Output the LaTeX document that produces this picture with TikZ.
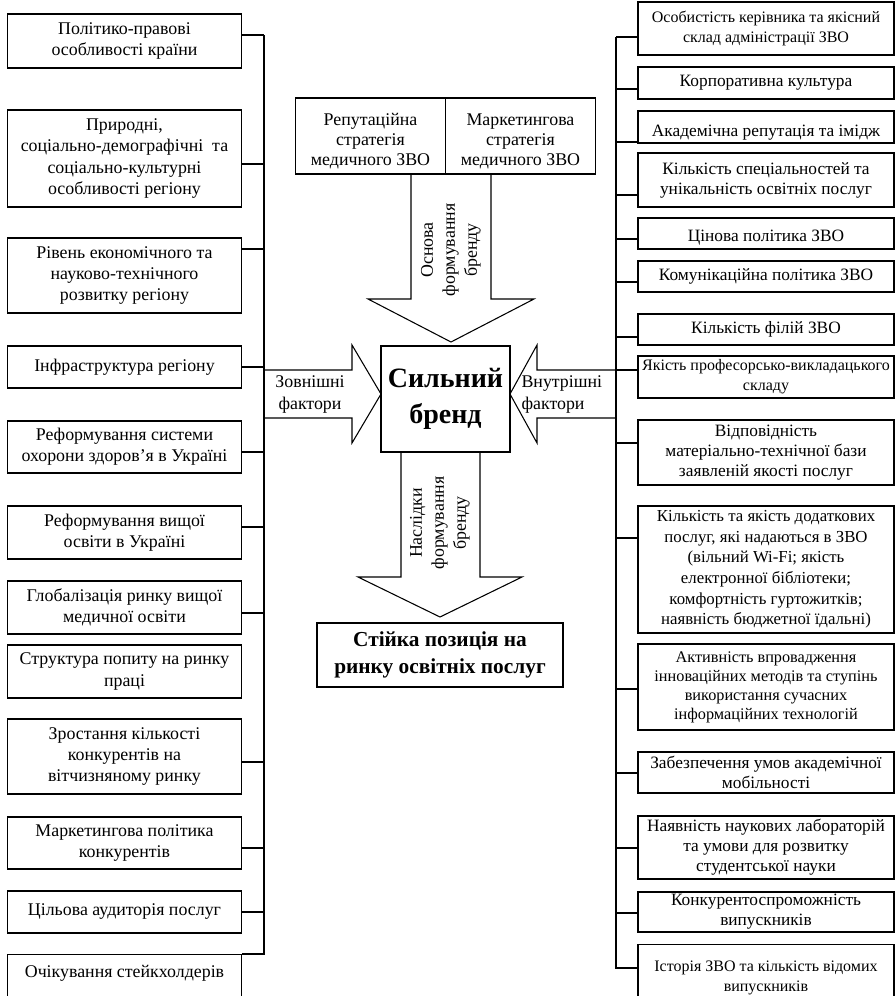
\documentclass[tikz,border=0pt]{standalone}
\usepackage{fontspec}
\setmainfont{Liberation Serif}
\usetikzlibrary{positioning, calc}

\begin{document}
\begin{tikzpicture}[x=0.75pt, y=-0.75pt, font=\fontsize{13.4}{16.5}\selectfont, line width=0.8pt]%

            \tikzstyle{fac} = [ rectangle, draw = black!100, align = center, inner xsep = 1pt, inner ysep = 0pt]
            \tikzstyle{extbox} = [ fac, minimum width = 176pt, font = \fontsize{13.4}{15.8}\selectfont]
            \tikzstyle{intbox} = [ fac, minimum width = 192pt, font = \fontsize{13}{15}\selectfont]
            \tikzstyle{narrow} = [ font = \fontsize{12}{15}\selectfont]
            \tikzstyle{stratbox} = [ fac, minimum width = 112.5pt, minimum height = 57pt, font = \fontsize{13.4}{15}\selectfont]
            \tikzstyle{bigarrow} = [ draw = black!100, line join = miter]
            \tikzstyle{rot} = [ rotate = 90, align = center, inner sep = 0pt]
        %%
            \useasboundingbox (0,0) rectangle (896,996);
            \clip (0,0) rectangle (896,996);

            \begin{scope}%
                %% External factors
                \node [extbox, minimum height = 40.5pt] (ext_1) at (124.5, 41) {Політико-правові\\особливості країни};
                \node [extbox, minimum height = 72.75pt] (ext_2) at (124.5, 158.5) {Природні,\\соціально-демографічні\ \ та\\соціально-культурні\\особливості регіону};
                \node [extbox, minimum height = 56.25pt] (ext_3) at (124.5, 275.5) {Рівень економічного та\\науково-технічного\\розвитку регіону};
                \node [extbox, minimum height = 31.5pt] (ext_4) at (124.5, 367) {Інфраструктура регіону};
                \node [extbox, minimum height = 39pt] (ext_5) at (124.5, 447) {Реформування системи\\охорони здоров'я в Україні};
                \node [extbox, minimum height = 39.75pt] (ext_6) at (124.5, 532.5) {Реформування вищої\\освіти в Україні};
                \node [extbox, minimum height = 39.75pt] (ext_7) at (124.5, 607.5) {Глобалізація ринку вищої\\медичної освіти};
                \node [extbox, minimum height = 39.75pt] (ext_8) at (124.5, 671.5) {Структура попиту на ринку\\праці};
                \node [extbox, minimum height = 56.25pt] (ext_9) at (124.5, 756.5) {Зростання кількості\\конкурентів на\\вітчизняному ринку};
                \node [extbox, minimum height = 39pt] (ext_10) at (124.5, 843) {Маркетингова політика\\конкурентів};
                \node [extbox, minimum height = 31.5pt] (ext_11) at (124.5, 912) {Цільова аудиторія послуг};
                \node [extbox, anchor = north, inner ysep = 2pt, text height = 15pt, text depth = 30pt] (ext_12) at (124.5, 954) {Очікування стейкхолдерів};

                \coordinate (ls_1) at (264, 35);
                \coordinate (ls_2) at (264, 164);
                \coordinate (ls_3) at (264, 249);
                \coordinate (ls_4) at (264, 367);
                \coordinate (ls_5) at (264, 452);
                \coordinate (ls_6) at (264, 527);
                \coordinate (ls_7) at (264, 613);
                \coordinate (ls_9) at (264, 762);
                \coordinate (ls_10) at (264, 848);
                \coordinate (ls_11) at (264, 912);
                \coordinate (ls_end) at (264, 954);

                \draw (ext_1.east |- ls_1) -- (ls_1);
                \draw (ext_2.east |- ls_2) -- (ls_2);
                \draw (ext_3.east |- ls_3) -- (ls_3);
                \draw (ext_4.east |- ls_4) -- (ls_4);
                \draw (ext_5.east |- ls_5) -- (ls_5);
                \draw (ext_6.east |- ls_6) -- (ls_6);
                \draw (ext_7.east |- ls_7) -- (ls_7);
                \draw (ext_9.east |- ls_9) -- (ls_9);
                \draw (ext_10.east |- ls_10) -- (ls_10);
                \draw (ext_11.east |- ls_11) -- (ls_11);
                \draw (ls_1) -- (ls_end) -- (ext_12.north east);

                %% Internal factors
                \node [intbox, narrow, minimum height = 39.75pt] (int_1) at (766, 28.5) {Особистість керівника та якісний\\склад адміністрації ЗВО};
                \node [intbox, minimum height = 24pt] (int_2) at (766, 83) {Корпоративна культура};
                \node [intbox, minimum height = 24pt, text height = 14pt, text depth = 0pt] (int_3) at (766, 127) {Академічна репутація та імідж};
                \node [intbox, minimum height = 40.5pt] (int_4) at (766, 180) {Кількість спеціальностей та\\унікальність освітніх послуг};
                \node [intbox, minimum height = 23.25pt, text height = 12pt, text depth = 0pt] (int_5) at (766, 233.5) {Цінова політика ЗВО};
                \node [intbox, minimum height = 23.25pt] (int_6) at (766, 276.5) {Комунікаційна політика ЗВО};
                \node [intbox, minimum height = 23.25pt] (int_7) at (766, 329.5) {Кількість філій ЗВО};
                \node [intbox, narrow, minimum height = 31.5pt] (int_8) at (766, 377) {Якість професорсько-викладацького\\складу};
                \node [intbox, minimum height = 48.75pt] (int_9) at (766, 452.5) {Відповідність\\матеріально-технічної бази\\заявленій якості послуг};
                \node [intbox, minimum height = 95.25pt, font = \fontsize{12.6}{15.5}\selectfont] (int_10) at (766, 569.5) {Кількість та якість додаткових\\послуг, які надаються в ЗВО\\(вільний Wi-Fi; якість\\електронної бібліотеки;\\комфортність гуртожитків;\\наявність бюджетної їдальні)};
                \node [intbox, minimum height = 64.5pt, font = \fontsize{12.2}{14.3}\selectfont] (int_11) at (766, 687) {Активність впровадження\\інноваційних методів та ступінь\\використання сучасних\\інформаційних технологій};
                \node [intbox, minimum height = 30.75pt] (int_12) at (766, 772.5) {Забезпечення умов академічної\\мобільності};
                \node [intbox, minimum height = 47.25pt] (int_13) at (766, 847.5) {Наявність наукових лабораторій\\та умови для розвитку\\студентської науки};
                \node [intbox, minimum height = 30pt] (int_14) at (766, 912) {Конкурентоспроможність\\випускників};
                \node [intbox, narrow, anchor = north, inner ysep = 2pt, text height = 33pt, text depth = 30pt] (int_15) at (766, 944) {Історія ЗВО та кількість відомих\\випускників};

                \coordinate (rs_1) at (616, 37);
                \coordinate (rs_2) at (616, 89);
                \coordinate (rs_3) at (616, 142);
                \coordinate (rs_4) at (616, 195);
                \coordinate (rs_5) at (616, 239);
                \coordinate (rs_6) at (616, 282);
                \coordinate (rs_7) at (616, 337);
                \coordinate (rs_8) at (616, 370);
                \coordinate (rs_9) at (616, 443);
                \coordinate (rs_10) at (616, 538);
                \coordinate (rs_11) at (616, 689);
                \coordinate (rs_12) at (616, 773);
                \coordinate (rs_13) at (616, 848);
                \coordinate (rs_14) at (616, 913);
                \coordinate (rs_15) at (616, 968);

                \draw (int_1.west |- rs_1) -- (rs_1);
                \draw (int_2.west |- rs_2) -- (rs_2);
                \draw (int_3.west |- rs_3) -- (rs_3);
                \draw (int_4.west |- rs_4) -- (rs_4);
                \draw (int_5.west |- rs_5) -- (rs_5);
                \draw (int_6.west |- rs_6) -- (rs_6);
                \draw (int_7.west |- rs_7) -- (rs_7);
                \draw (int_8.west |- rs_8) -- (rs_8);
                \draw (int_9.west |- rs_9) -- (rs_9);
                \draw (int_10.west |- rs_10) -- (rs_10);
                \draw (int_11.west |- rs_11) -- (rs_11);
                \draw (int_12.west |- rs_12) -- (rs_12);
                \draw (int_13.west |- rs_13) -- (rs_13);
                \draw (int_14.west |- rs_14) -- (rs_14);
                \draw (rs_1) -- (rs_15) -- (int_15.west |- rs_15);

                %% Strategies
                \node [stratbox, text height = 46.5pt, text depth = 3pt] (str_rep) at (370.5, 136) {Репутаційна\\стратегія\\медичного ЗВО};
                \node [stratbox, text height = 46.5pt, text depth = 3pt] (str_mkt) at (520.5, 136) {Маркетингова\\стратегія\\медичного ЗВО};

                %% Brand
                \node [fac, minimum width = 96.75pt, minimum height = 79.5pt, font = \fontsize{21}{27}\selectfont\bfseries] (core) at (445.5, 399) {Сильний\\бренд};
                \node [fac, minimum width = 184.5pt, minimum height = 48pt, font = \fontsize{16}{20.5}\selectfont\bfseries] (res) at (440, 655) {Стійка позиція на\\ринку освітніх послуг};

                %% Big arrows
                \draw [bigarrow] (411, 174) -- (411, 299) -- (368, 299) -- (451, 342) -- (534, 299) -- (491, 299) -- (491, 174);
                \draw [bigarrow] (264, 370) -- (352, 370) -- (352, 345) -- (381, 394) -- (352, 443) -- (352, 418) -- (264, 418);
                \draw [bigarrow] (616, 370) -- (537, 370) -- (537, 345) -- (510, 394) -- (537, 443) -- (537, 418) -- (616, 418);
                \draw [bigarrow] (401, 452) -- (401, 577) -- (358, 577) -- (440, 617) -- (522, 577) -- (480, 577) -- (480, 452);

                \node [rot] (base_lbl) at (451, 250) {Основа\\формування\\бренду};
                \node [rot] (cons_lbl) at (440, 523) {Наслідки\\формування\\бренду};
                \node [align = center, inner sep = 0pt] (ext_lbl) at (310, 394) {Зовнішні\\фактори};
                \node [align = left, anchor = west, inner sep = 0pt] (int_lbl) at (521, 394) {Внутрішні\\фактори};
            \end{scope}%
        \end{tikzpicture}
\end{document}
